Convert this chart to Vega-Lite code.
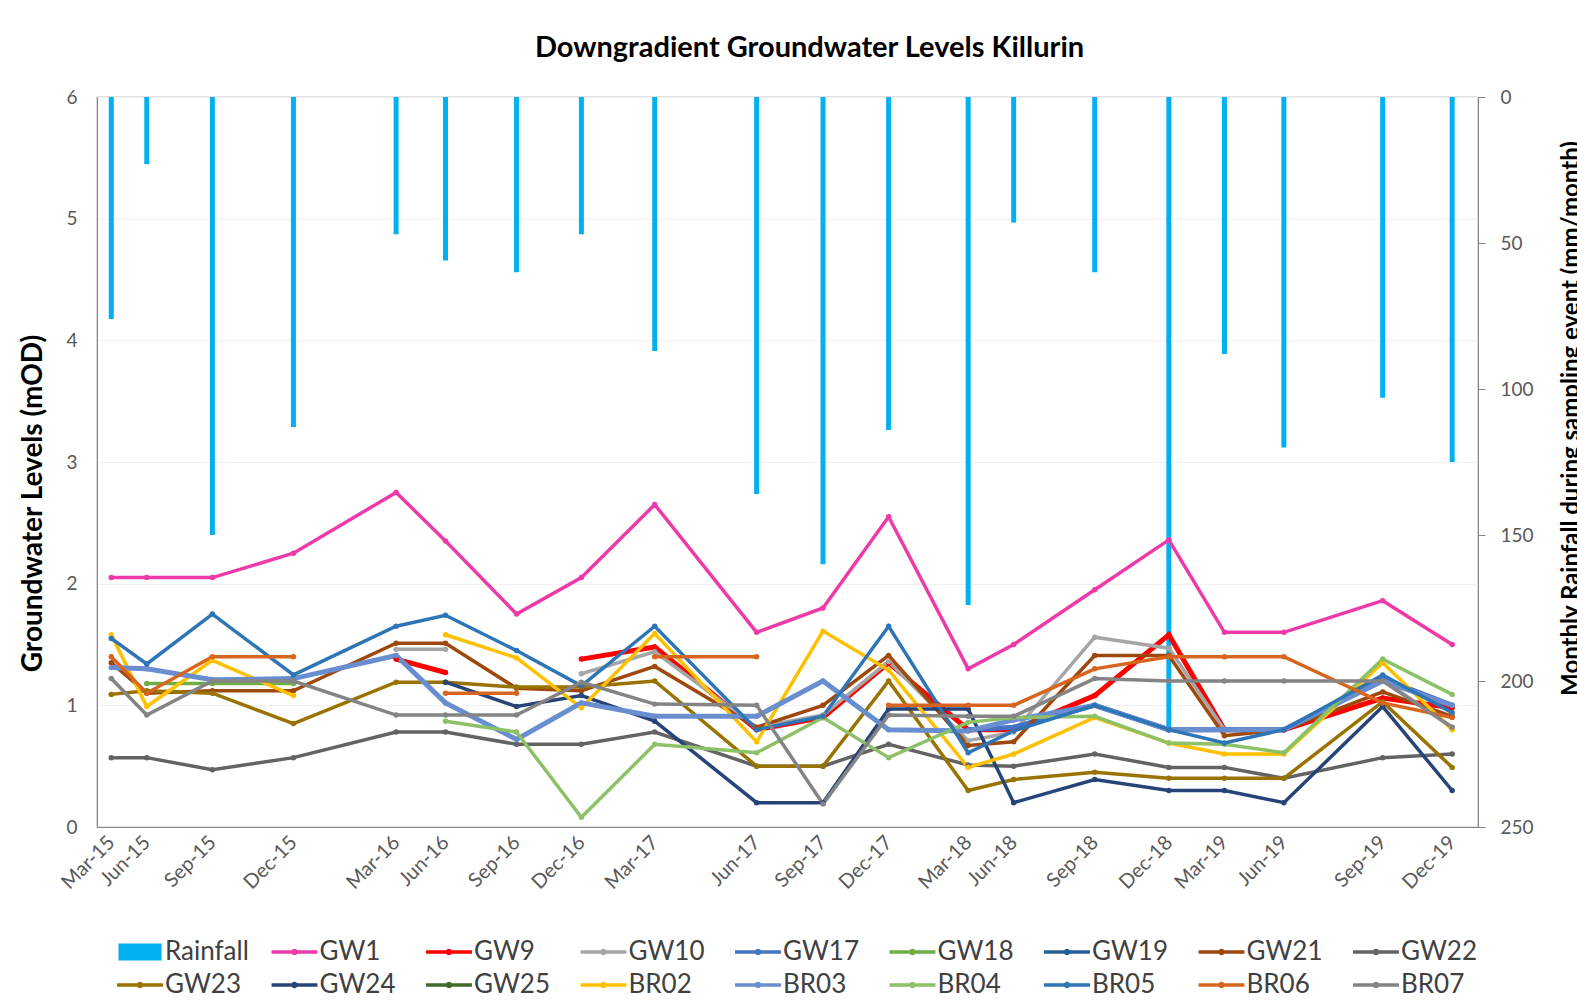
{
  "$schema": "https://vega.github.io/schema/vega-lite/v6.json",
  "width": 1381,
  "height": 730,
  "autosize": {"type": "none"},
  "padding": {"left": 97, "top": 97, "right": 99, "bottom": 179},
  "background": "white",
  "config": {
    "font": "Lato",
    "view": {"stroke": "#868686", "strokeWidth": 1.2},
    "axis": {"labelFont": "Lato", "titleFont": "Lato", "labelColor": "#595959", "titleColor": "#000000", "domainColor": "#868686"}
  },
  "title": {
    "text": "Downgradient Groundwater Levels Killurin",
    "font": "Lato", "fontSize": 29, "fontWeight": "bold", "color": "#000000",
    "anchor": "middle", "dx": 22, "offset": 2, "baseline": "alphabetic"
  },
  "data": {
    "values": [
      {"date": "2015-03-13", "series": "Rainfall", "value": 76},
      {"date": "2015-04-28", "series": "Rainfall", "value": 23},
      {"date": "2015-07-22", "series": "Rainfall", "value": 150},
      {"date": "2015-11-04", "series": "Rainfall", "value": 113},
      {"date": "2016-03-16", "series": "Rainfall", "value": 47},
      {"date": "2016-05-19", "series": "Rainfall", "value": 56},
      {"date": "2016-08-19", "series": "Rainfall", "value": 60},
      {"date": "2016-11-11", "series": "Rainfall", "value": 47},
      {"date": "2017-02-14", "series": "Rainfall", "value": 87},
      {"date": "2017-06-26", "series": "Rainfall", "value": 136},
      {"date": "2017-09-20", "series": "Rainfall", "value": 160},
      {"date": "2017-12-14", "series": "Rainfall", "value": 114},
      {"date": "2018-03-27", "series": "Rainfall", "value": 174},
      {"date": "2018-05-25", "series": "Rainfall", "value": 43},
      {"date": "2018-09-07", "series": "Rainfall", "value": 60},
      {"date": "2018-12-12", "series": "Rainfall", "value": 217},
      {"date": "2019-02-22", "series": "Rainfall", "value": 88},
      {"date": "2019-05-10", "series": "Rainfall", "value": 120},
      {"date": "2019-09-15", "series": "Rainfall", "value": 103},
      {"date": "2019-12-14", "series": "Rainfall", "value": 125},

      {"date": "2015-03-13", "series": "GW1", "value": 2.05},
      {"date": "2015-04-28", "series": "GW1", "value": 2.05},
      {"date": "2015-07-22", "series": "GW1", "value": 2.05},
      {"date": "2015-11-04", "series": "GW1", "value": 2.25},
      {"date": "2016-03-16", "series": "GW1", "value": 2.75},
      {"date": "2016-05-19", "series": "GW1", "value": 2.35},
      {"date": "2016-08-19", "series": "GW1", "value": 1.75},
      {"date": "2016-11-11", "series": "GW1", "value": 2.05},
      {"date": "2017-02-14", "series": "GW1", "value": 2.65},
      {"date": "2017-06-26", "series": "GW1", "value": 1.6},
      {"date": "2017-09-20", "series": "GW1", "value": 1.8},
      {"date": "2017-12-14", "series": "GW1", "value": 2.55},
      {"date": "2018-03-27", "series": "GW1", "value": 1.3},
      {"date": "2018-05-25", "series": "GW1", "value": 1.5},
      {"date": "2018-09-07", "series": "GW1", "value": 1.95},
      {"date": "2018-12-12", "series": "GW1", "value": 2.36},
      {"date": "2019-02-22", "series": "GW1", "value": 1.6},
      {"date": "2019-05-10", "series": "GW1", "value": 1.6},
      {"date": "2019-09-15", "series": "GW1", "value": 1.86},
      {"date": "2019-12-14", "series": "GW1", "value": 1.5},

      {"date": "2016-03-16", "series": "GW9", "value": 1.38},
      {"date": "2016-05-19", "series": "GW9", "value": 1.27},
      {"date": "2016-08-19", "series": "GW9", "value": null},
      {"date": "2016-11-11", "series": "GW9", "value": 1.38},
      {"date": "2017-02-14", "series": "GW9", "value": 1.48},
      {"date": "2017-06-26", "series": "GW9", "value": 0.8},
      {"date": "2017-09-20", "series": "GW9", "value": 0.9},
      {"date": "2017-12-14", "series": "GW9", "value": 1.35},
      {"date": "2018-03-27", "series": "GW9", "value": 0.8},
      {"date": "2018-05-25", "series": "GW9", "value": 0.8},
      {"date": "2018-09-07", "series": "GW9", "value": 1.08},
      {"date": "2018-12-12", "series": "GW9", "value": 1.58},
      {"date": "2019-02-22", "series": "GW9", "value": 0.8},
      {"date": "2019-05-10", "series": "GW9", "value": 0.8},
      {"date": "2019-09-15", "series": "GW9", "value": 1.06},
      {"date": "2019-12-14", "series": "GW9", "value": 0.98},

      {"date": "2016-03-16", "series": "GW10", "value": 1.46},
      {"date": "2016-05-19", "series": "GW10", "value": 1.46},
      {"date": "2016-08-19", "series": "GW10", "value": null},
      {"date": "2016-11-11", "series": "GW10", "value": 1.26},
      {"date": "2017-02-14", "series": "GW10", "value": 1.44},
      {"date": "2017-06-26", "series": "GW10", "value": 0.82},
      {"date": "2017-09-20", "series": "GW10", "value": 0.92},
      {"date": "2017-12-14", "series": "GW10", "value": 1.36},
      {"date": "2018-03-27", "series": "GW10", "value": 0.71},
      {"date": "2018-05-25", "series": "GW10", "value": 0.78},
      {"date": "2018-09-07", "series": "GW10", "value": 1.56},
      {"date": "2018-12-12", "series": "GW10", "value": 1.47},
      {"date": "2019-02-22", "series": "GW10", "value": 0.8},
      {"date": "2019-05-10", "series": "GW10", "value": 0.8},
      {"date": "2019-09-15", "series": "GW10", "value": 1.21},
      {"date": "2019-12-14", "series": "GW10", "value": 0.82},

      {"date": "2018-03-27", "series": "GW17", "value": 0.8},
      {"date": "2018-05-25", "series": "GW17", "value": 0.82},
      {"date": "2018-09-07", "series": "GW17", "value": 1.0},
      {"date": "2018-12-12", "series": "GW17", "value": 0.8},
      {"date": "2019-02-22", "series": "GW17", "value": 0.8},
      {"date": "2019-05-10", "series": "GW17", "value": 0.8},
      {"date": "2019-09-15", "series": "GW17", "value": 1.22},
      {"date": "2019-12-14", "series": "GW17", "value": 1.0},

      {"date": "2015-04-28", "series": "GW18", "value": 1.18},
      {"date": "2015-07-22", "series": "GW18", "value": 1.18},
      {"date": "2015-11-04", "series": "GW18", "value": 1.18},

      {"date": "2015-03-13", "series": "GW21", "value": 1.35},
      {"date": "2015-04-28", "series": "GW21", "value": 1.1},
      {"date": "2015-07-22", "series": "GW21", "value": 1.12},
      {"date": "2015-11-04", "series": "GW21", "value": 1.12},
      {"date": "2016-03-16", "series": "GW21", "value": 1.51},
      {"date": "2016-05-19", "series": "GW21", "value": 1.51},
      {"date": "2016-08-19", "series": "GW21", "value": 1.14},
      {"date": "2016-11-11", "series": "GW21", "value": 1.12},
      {"date": "2017-02-14", "series": "GW21", "value": 1.32},
      {"date": "2017-06-26", "series": "GW21", "value": 0.82},
      {"date": "2017-09-20", "series": "GW21", "value": 1.0},
      {"date": "2017-12-14", "series": "GW21", "value": 1.41},
      {"date": "2018-03-27", "series": "GW21", "value": 0.67},
      {"date": "2018-05-25", "series": "GW21", "value": 0.7},
      {"date": "2018-09-07", "series": "GW21", "value": 1.41},
      {"date": "2018-12-12", "series": "GW21", "value": 1.41},
      {"date": "2019-02-22", "series": "GW21", "value": 0.75},
      {"date": "2019-05-10", "series": "GW21", "value": 0.8},
      {"date": "2019-09-15", "series": "GW21", "value": 1.11},
      {"date": "2019-12-14", "series": "GW21", "value": 0.91},

      {"date": "2015-03-13", "series": "GW22", "value": 0.57},
      {"date": "2015-04-28", "series": "GW22", "value": 0.57},
      {"date": "2015-07-22", "series": "GW22", "value": 0.47},
      {"date": "2015-11-04", "series": "GW22", "value": 0.57},
      {"date": "2016-03-16", "series": "GW22", "value": 0.78},
      {"date": "2016-05-19", "series": "GW22", "value": 0.78},
      {"date": "2016-08-19", "series": "GW22", "value": 0.68},
      {"date": "2016-11-11", "series": "GW22", "value": 0.68},
      {"date": "2017-02-14", "series": "GW22", "value": 0.78},
      {"date": "2017-06-26", "series": "GW22", "value": 0.5},
      {"date": "2017-09-20", "series": "GW22", "value": 0.5},
      {"date": "2017-12-14", "series": "GW22", "value": 0.68},
      {"date": "2018-03-27", "series": "GW22", "value": 0.51},
      {"date": "2018-05-25", "series": "GW22", "value": 0.5},
      {"date": "2018-09-07", "series": "GW22", "value": 0.6},
      {"date": "2018-12-12", "series": "GW22", "value": 0.49},
      {"date": "2019-02-22", "series": "GW22", "value": 0.49},
      {"date": "2019-05-10", "series": "GW22", "value": 0.4},
      {"date": "2019-09-15", "series": "GW22", "value": 0.57},
      {"date": "2019-12-14", "series": "GW22", "value": 0.6},

      {"date": "2015-03-13", "series": "GW23", "value": 1.09},
      {"date": "2015-04-28", "series": "GW23", "value": 1.12},
      {"date": "2015-07-22", "series": "GW23", "value": 1.1},
      {"date": "2015-11-04", "series": "GW23", "value": 0.85},
      {"date": "2016-03-16", "series": "GW23", "value": 1.19},
      {"date": "2016-05-19", "series": "GW23", "value": 1.19},
      {"date": "2016-08-19", "series": "GW23", "value": 1.15},
      {"date": "2016-11-11", "series": "GW23", "value": 1.15},
      {"date": "2017-02-14", "series": "GW23", "value": 1.2},
      {"date": "2017-06-26", "series": "GW23", "value": 0.5},
      {"date": "2017-09-20", "series": "GW23", "value": 0.5},
      {"date": "2017-12-14", "series": "GW23", "value": 1.2},
      {"date": "2018-03-27", "series": "GW23", "value": 0.3},
      {"date": "2018-05-25", "series": "GW23", "value": 0.39},
      {"date": "2018-09-07", "series": "GW23", "value": 0.45},
      {"date": "2018-12-12", "series": "GW23", "value": 0.4},
      {"date": "2019-02-22", "series": "GW23", "value": 0.4},
      {"date": "2019-05-10", "series": "GW23", "value": 0.4},
      {"date": "2019-09-15", "series": "GW23", "value": 1.03},
      {"date": "2019-12-14", "series": "GW23", "value": 0.49},

      {"date": "2016-05-19", "series": "GW24", "value": 1.19},
      {"date": "2016-08-19", "series": "GW24", "value": 0.99},
      {"date": "2016-11-11", "series": "GW24", "value": 1.08},
      {"date": "2017-02-14", "series": "GW24", "value": 0.87},
      {"date": "2017-06-26", "series": "GW24", "value": 0.2},
      {"date": "2017-09-20", "series": "GW24", "value": 0.2},
      {"date": "2017-12-14", "series": "GW24", "value": 0.97},
      {"date": "2018-03-27", "series": "GW24", "value": 0.97},
      {"date": "2018-05-25", "series": "GW24", "value": 0.2},
      {"date": "2018-09-07", "series": "GW24", "value": 0.39},
      {"date": "2018-12-12", "series": "GW24", "value": 0.3},
      {"date": "2019-02-22", "series": "GW24", "value": 0.3},
      {"date": "2019-05-10", "series": "GW24", "value": 0.2},
      {"date": "2019-09-15", "series": "GW24", "value": 0.99},
      {"date": "2019-12-14", "series": "GW24", "value": 0.3},

      {"date": "2015-03-13", "series": "BR02", "value": 1.58},
      {"date": "2015-04-28", "series": "BR02", "value": 0.99},
      {"date": "2015-07-22", "series": "BR02", "value": 1.37},
      {"date": "2015-11-04", "series": "BR02", "value": 1.08},
      {"date": "2016-03-16", "series": "BR02", "value": null},
      {"date": "2016-05-19", "series": "BR02", "value": 1.58},
      {"date": "2016-08-19", "series": "BR02", "value": 1.39},
      {"date": "2016-11-11", "series": "BR02", "value": 0.98},
      {"date": "2017-02-14", "series": "BR02", "value": 1.59},
      {"date": "2017-06-26", "series": "BR02", "value": 0.7},
      {"date": "2017-09-20", "series": "BR02", "value": 1.61},
      {"date": "2017-12-14", "series": "BR02", "value": 1.29},
      {"date": "2018-03-27", "series": "BR02", "value": 0.49},
      {"date": "2018-05-25", "series": "BR02", "value": 0.6},
      {"date": "2018-09-07", "series": "BR02", "value": 0.9},
      {"date": "2018-12-12", "series": "BR02", "value": 0.69},
      {"date": "2019-02-22", "series": "BR02", "value": 0.6},
      {"date": "2019-05-10", "series": "BR02", "value": 0.6},
      {"date": "2019-09-15", "series": "BR02", "value": 1.35},
      {"date": "2019-12-14", "series": "BR02", "value": 0.8},

      {"date": "2015-03-13", "series": "BR03", "value": 1.31},
      {"date": "2015-04-28", "series": "BR03", "value": 1.3},
      {"date": "2015-07-22", "series": "BR03", "value": 1.21},
      {"date": "2015-11-04", "series": "BR03", "value": 1.22},
      {"date": "2016-03-16", "series": "BR03", "value": 1.41},
      {"date": "2016-05-19", "series": "BR03", "value": 1.02},
      {"date": "2016-08-19", "series": "BR03", "value": 0.72},
      {"date": "2016-11-11", "series": "BR03", "value": 1.02},
      {"date": "2017-02-14", "series": "BR03", "value": 0.91},
      {"date": "2017-06-26", "series": "BR03", "value": 0.91},
      {"date": "2017-09-20", "series": "BR03", "value": 1.2},
      {"date": "2017-12-14", "series": "BR03", "value": 0.8},
      {"date": "2018-03-27", "series": "BR03", "value": 0.79},
      {"date": "2018-05-25", "series": "BR03", "value": 0.88},
      {"date": "2018-09-07", "series": "BR03", "value": 1.0},
      {"date": "2018-12-12", "series": "BR03", "value": 0.8},
      {"date": "2019-02-22", "series": "BR03", "value": 0.8},
      {"date": "2019-05-10", "series": "BR03", "value": 0.8},
      {"date": "2019-09-15", "series": "BR03", "value": 1.2},
      {"date": "2019-12-14", "series": "BR03", "value": 1.0},

      {"date": "2016-05-19", "series": "BR04", "value": 0.87},
      {"date": "2016-08-19", "series": "BR04", "value": 0.78},
      {"date": "2016-11-11", "series": "BR04", "value": 0.08},
      {"date": "2017-02-14", "series": "BR04", "value": 0.68},
      {"date": "2017-06-26", "series": "BR04", "value": 0.61},
      {"date": "2017-09-20", "series": "BR04", "value": 0.9},
      {"date": "2017-12-14", "series": "BR04", "value": 0.57},
      {"date": "2018-03-27", "series": "BR04", "value": 0.86},
      {"date": "2018-05-25", "series": "BR04", "value": 0.9},
      {"date": "2018-09-07", "series": "BR04", "value": 0.91},
      {"date": "2018-12-12", "series": "BR04", "value": 0.69},
      {"date": "2019-02-22", "series": "BR04", "value": 0.68},
      {"date": "2019-05-10", "series": "BR04", "value": 0.61},
      {"date": "2019-09-15", "series": "BR04", "value": 1.38},
      {"date": "2019-12-14", "series": "BR04", "value": 1.09},

      {"date": "2015-03-13", "series": "BR05", "value": 1.55},
      {"date": "2015-04-28", "series": "BR05", "value": 1.34},
      {"date": "2015-07-22", "series": "BR05", "value": 1.75},
      {"date": "2015-11-04", "series": "BR05", "value": 1.25},
      {"date": "2016-03-16", "series": "BR05", "value": 1.65},
      {"date": "2016-05-19", "series": "BR05", "value": 1.74},
      {"date": "2016-08-19", "series": "BR05", "value": 1.45},
      {"date": "2016-11-11", "series": "BR05", "value": 1.16},
      {"date": "2017-02-14", "series": "BR05", "value": 1.65},
      {"date": "2017-06-26", "series": "BR05", "value": 0.8},
      {"date": "2017-09-20", "series": "BR05", "value": 0.91},
      {"date": "2017-12-14", "series": "BR05", "value": 1.65},
      {"date": "2018-03-27", "series": "BR05", "value": 0.61},
      {"date": "2018-05-25", "series": "BR05", "value": 0.79},
      {"date": "2018-09-07", "series": "BR05", "value": 1.0},
      {"date": "2018-12-12", "series": "BR05", "value": 0.8},
      {"date": "2019-02-22", "series": "BR05", "value": 0.69},
      {"date": "2019-05-10", "series": "BR05", "value": 0.8},
      {"date": "2019-09-15", "series": "BR05", "value": 1.25},
      {"date": "2019-12-14", "series": "BR05", "value": 0.94},

      {"date": "2015-03-13", "series": "BR06", "value": 1.4},
      {"date": "2015-04-28", "series": "BR06", "value": 1.1},
      {"date": "2015-07-22", "series": "BR06", "value": 1.4},
      {"date": "2015-11-04", "series": "BR06", "value": 1.4},
      {"date": "2016-03-16", "series": "BR06", "value": null},
      {"date": "2016-05-19", "series": "BR06", "value": 1.1},
      {"date": "2016-08-19", "series": "BR06", "value": 1.1},
      {"date": "2016-11-11", "series": "BR06", "value": null},
      {"date": "2017-02-14", "series": "BR06", "value": 1.4},
      {"date": "2017-06-26", "series": "BR06", "value": 1.4},
      {"date": "2017-09-20", "series": "BR06", "value": null},
      {"date": "2017-12-14", "series": "BR06", "value": 1.0},
      {"date": "2018-03-27", "series": "BR06", "value": 1.0},
      {"date": "2018-05-25", "series": "BR06", "value": 1.0},
      {"date": "2018-09-07", "series": "BR06", "value": 1.3},
      {"date": "2018-12-12", "series": "BR06", "value": 1.4},
      {"date": "2019-02-22", "series": "BR06", "value": 1.4},
      {"date": "2019-05-10", "series": "BR06", "value": 1.4},
      {"date": "2019-09-15", "series": "BR06", "value": 1.02},
      {"date": "2019-12-14", "series": "BR06", "value": 0.9},

      {"date": "2015-03-13", "series": "BR07", "value": 1.22},
      {"date": "2015-04-28", "series": "BR07", "value": 0.92},
      {"date": "2015-07-22", "series": "BR07", "value": 1.2},
      {"date": "2015-11-04", "series": "BR07", "value": 1.2},
      {"date": "2016-03-16", "series": "BR07", "value": 0.92},
      {"date": "2016-05-19", "series": "BR07", "value": 0.92},
      {"date": "2016-08-19", "series": "BR07", "value": 0.92},
      {"date": "2016-11-11", "series": "BR07", "value": 1.19},
      {"date": "2017-02-14", "series": "BR07", "value": 1.01},
      {"date": "2017-06-26", "series": "BR07", "value": 1.0},
      {"date": "2017-09-20", "series": "BR07", "value": 0.19},
      {"date": "2017-12-14", "series": "BR07", "value": 0.92},
      {"date": "2018-03-27", "series": "BR07", "value": 0.91},
      {"date": "2018-05-25", "series": "BR07", "value": 0.91},
      {"date": "2018-09-07", "series": "BR07", "value": 1.22},
      {"date": "2018-12-12", "series": "BR07", "value": 1.2},
      {"date": "2019-02-22", "series": "BR07", "value": 1.2},
      {"date": "2019-05-10", "series": "BR07", "value": 1.2},
      {"date": "2019-09-15", "series": "BR07", "value": 1.2},
      {"date": "2019-12-14", "series": "BR07", "value": 0.82}
    ]
  },
  "encoding": {
    "x": {
      "field": "date", "type": "temporal",
      "scale": {"type": "utc", "domain": [{"year": 2015, "month": 3, "date": 1, "utc": true}, {"year": 2020, "month": 1, "date": 10, "utc": true}]},
      "axis": {
        "title": null,
        "values": [
          {"year": 2015, "month": 3, "date": 13, "utc": true},
          {"year": 2015, "month": 4, "date": 28, "utc": true},
          {"year": 2015, "month": 7, "date": 22, "utc": true},
          {"year": 2015, "month": 11, "date": 4, "utc": true},
          {"year": 2016, "month": 3, "date": 16, "utc": true},
          {"year": 2016, "month": 5, "date": 19, "utc": true},
          {"year": 2016, "month": 8, "date": 19, "utc": true},
          {"year": 2016, "month": 11, "date": 11, "utc": true},
          {"year": 2017, "month": 2, "date": 14, "utc": true},
          {"year": 2017, "month": 6, "date": 26, "utc": true},
          {"year": 2017, "month": 9, "date": 20, "utc": true},
          {"year": 2017, "month": 12, "date": 14, "utc": true},
          {"year": 2018, "month": 3, "date": 27, "utc": true},
          {"year": 2018, "month": 5, "date": 25, "utc": true},
          {"year": 2018, "month": 9, "date": 7, "utc": true},
          {"year": 2018, "month": 12, "date": 12, "utc": true},
          {"year": 2019, "month": 2, "date": 22, "utc": true},
          {"year": 2019, "month": 5, "date": 10, "utc": true},
          {"year": 2019, "month": 9, "date": 15, "utc": true},
          {"year": 2019, "month": 12, "date": 14, "utc": true}
        ],
        "labelExpr": "{'2015-03-13':'Mar-15','2015-04-28':'Jun-15','2015-07-22':'Sep-15','2015-11-04':'Dec-15','2016-03-16':'Mar-16','2016-05-19':'Jun-16','2016-08-19':'Sep-16','2016-11-11':'Dec-16','2017-02-14':'Mar-17','2017-06-26':'Jun-17','2017-09-20':'Sep-17','2017-12-14':'Dec-17','2018-03-27':'Mar-18','2018-05-25':'Jun-18','2018-09-07':'Sep-18','2018-12-12':'Dec-18','2019-02-22':'Mar-19','2019-05-10':'Jun-19','2019-09-15':'Sep-19','2019-12-14':'Dec-19'}[utcFormat(datum.value,'%Y-%m-%d')]",
        "labelAngle": -45, "labelAlign": "right", "labelBaseline": "middle",
        "labelFontSize": 20, "labelPadding": 12, "labelOverlap": false, "labelFlush": false, "labelBound": false,
        "ticks": false, "grid": false
      }
    },
    "color": {
      "field": "series", "type": "nominal",
      "scale": {
        "domain": ["Rainfall", "GW1", "GW9", "GW10", "GW17", "GW18", "GW19", "GW21", "GW22", "GW23", "GW24", "GW25", "BR02", "BR03", "BR04", "BR05", "BR06", "BR07"],
        "range": ["#00B0F0", "#EE3AA8", "#FF0000", "#A5A5A5", "#4472C4", "#70AD47", "#255E91", "#9E480E", "#636363", "#997300", "#264478", "#43682B", "#FFC000", "#698ED0", "#8CC168", "#2E75B6", "#D8651E", "#848484"]
      },
      "legend": {
        "title": null, "orient": "none", "legendX": 30, "legendY": 842,
        "direction": "horizontal", "columns": 9, "gridAlign": "all",
        "columnPadding": 15.5, "rowPadding": 7,
        "labelFont": "Lato", "labelFontSize": 26, "labelColor": "#404040", "labelOffset": 12, "labelLimit": 0,
        "symbolSize": 2025, "symbolStrokeWidth": 3.5, "symbolOpacity": 1,
        "encode": {
          "symbols": {
            "update": {
              "shape": {"signal": "datum.value === 'Rainfall' ? 'M-0.955,-0.38H0.955V0.38H-0.955Z' : 'M-1.02,0H1.02M0.07,0A0.07,0.07 0 1 1 -0.07,0A0.07,0.07 0 1 1 0.07,0'"},
              "fill": {"signal": "datum.value === 'Rainfall' ? '#00B0F0' : 'transparent'"},
              "stroke": {"signal": "datum.value === 'Rainfall' ? 'transparent' : scale('color', datum.value)"},
              "strokeWidth": {"signal": "datum.value === 'Rainfall' ? 0 : 3.5"},
              "opacity": {"value": 1}
            }
          }
        }
      }
    }
  },
  "layer": [
    {
      "transform": [{"filter": "datum.series === 'Rainfall'"}],
      "mark": {"type": "bar", "width": 5},
      "encoding": {
        "y": {
          "field": "value", "type": "quantitative",
          "scale": {"domain": [0, 250], "reverse": true, "nice": false},
          "axis": {
            "orient": "right", "values": [0, 50, 100, 150, 200, 250],
            "title": "Monthly Rainfall during sampling event (mm/month)",
            "titleAngle": -90, "titleBaseline": "top", "titleFontSize": 24, "titleFontWeight": "bold",
            "titlePadding": 26, "titleY": 321,
            "labelFontSize": 19, "labelPadding": 15,
            "ticks": true, "tickSize": 7, "tickColor": "#868686", "grid": false
          }
        }
      }
    },
    {
      "transform": [{"filter": "datum.series !== 'Rainfall'"}],
      "layer": [
        {
          "mark": {"type": "line", "invalid": "break-paths-show-domains"},
          "encoding": {
            "y": {
              "field": "value", "type": "quantitative",
              "scale": {"domain": [0, 6], "nice": false},
              "axis": {
                "values": [0, 1, 2, 3, 4, 5, 6], "format": "d",
                "title": "Groundwater Levels (mOD)", "titleFontSize": 28, "titleFontWeight": "bold",
                "titlePadding": 18, "titleY": 406,
                "labelFontSize": 19, "labelPadding": 20,
                "ticks": false, "grid": true, "gridColor": "#F0F0F0"
              }
            },
            "strokeWidth": {
              "condition": {"test": "indexof(['GW9','GW17','GW19','GW25','BR03'], datum.series) >= 0", "value": 5},
              "value": 3.5
            }
          }
        },
        {
          "transform": [{"filter": "isValid(datum.value)"}],
          "mark": {"type": "point", "filled": true, "size": 30, "opacity": 1},
          "encoding": {
            "y": {"field": "value", "type": "quantitative"}
          }
        }
      ]
    }
  ],
  "resolve": {"scale": {"y": "independent"}}
}
